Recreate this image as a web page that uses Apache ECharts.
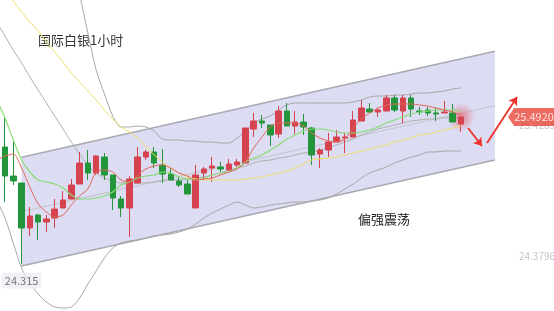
<!DOCTYPE html>
<html><head><meta charset="utf-8">
<script src="https://cdn.jsdelivr.net/npm/echarts@6/dist/echarts.min.js"></script>
<style>html,body{margin:0;padding:0;background:#fff}#c{width:554px;height:311px}</style>
</head><body><div id="c"></div>
<script>
// [open, close, low, high] per hourly bar
const candles = [
 [25.348,25.404,25.332,25.420],[25.252,25.020,24.812,25.484],[25.020,24.980,24.948,25.292],
 [24.964,24.604,24.315,24.964],[24.604,24.700,24.540,24.772],[24.708,24.652,24.508,24.716],
 [24.652,24.676,24.572,24.708],[24.684,24.756,24.604,24.836],[24.764,24.828,24.764,24.900],
 [24.836,24.948,24.836,24.996],[24.956,25.124,24.956,25.212],[25.124,25.044,24.988,25.228],
 [25.044,25.180,25.028,25.188],[25.172,25.028,24.988,25.204],[25.028,24.844,24.748,25.028],
 [24.836,24.764,24.692,24.860],[24.764,24.996,24.532,25.020],[24.964,25.172,24.964,25.252],
 [25.172,25.212,25.148,25.228],[25.212,25.124,25.084,25.252],[25.108,25.036,24.964,25.236],
 [25.036,24.988,24.988,25.084],[24.980,24.948,24.932,25.012],[24.956,24.876,24.876,24.988],
 [24.764,25.028,24.764,25.108],[25.044,25.076,24.988,25.092],[25.084,25.100,24.972,25.172],
 [25.092,25.076,25.052,25.132],[25.068,25.116,25.068,25.156],[25.108,25.132,25.092,25.156],
 [25.124,25.404,25.124,25.404],[25.396,25.460,25.332,25.524],[25.460,25.444,25.404,25.508],
 [25.428,25.348,25.260,25.428],[25.356,25.540,25.324,25.580],[25.540,25.420,25.420,25.604],
 [25.420,25.452,25.356,25.540],[25.452,25.412,25.348,25.516],[25.404,25.188,25.108,25.412],
 [25.196,25.228,25.084,25.244],[25.228,25.292,25.172,25.364],[25.292,25.332,25.292,25.388],
 [25.324,25.332,25.204,25.364],[25.332,25.468,25.332,25.540],[25.460,25.564,25.460,25.628],
 [25.556,25.532,25.524,25.604],[25.532,25.548,25.492,25.564],[25.540,25.644,25.540,25.668],
 [25.644,25.548,25.532,25.668],[25.540,25.644,25.444,25.668],[25.644,25.556,25.492,25.668],
 [25.540,25.532,25.508,25.572],[25.548,25.524,25.500,25.572],[25.524,25.516,25.460,25.564],
 [25.524,25.532,25.524,25.620],[25.524,25.452,25.452,25.596],[25.436,25.492,25.372,25.492]
];
const ma5 = [25.148,25.180,25.196,25.084,24.932,24.796,24.732,24.692,24.708,24.788,24.860,24.916,25.052,25.068,25.052,24.988,24.972,25.028,25.076,25.100,25.108,25.084,25.044,25.020,24.988,24.996,25.004,25.028,25.052,25.076,25.132,25.244,25.332,25.412,25.444,25.444,25.444,25.420,25.364,25.324,25.300,25.292,25.316,25.404,25.476,25.524,25.564,25.588,25.596,25.596,25.596,25.588,25.580,25.564,25.548,25.532,25.508];
const ma10 = [25.628,25.484,25.308,25.148,25.052,24.988,24.972,24.956,24.924,24.868,24.836,24.836,24.844,24.860,24.892,24.948,24.972,25.004,25.020,25.028,25.052,25.044,25.012,24.996,24.988,25.004,25.028,25.044,25.052,25.084,25.132,25.164,25.188,25.228,25.268,25.316,25.348,25.380,25.396,25.396,25.388,25.372,25.364,25.364,25.372,25.388,25.412,25.444,25.468,25.492,25.516,25.532,25.540,25.548,25.548,25.548,25.540];
const ma30 = [26.572,26.492,26.420,26.332,26.252,26.180,26.092,26.012,25.932,25.844,25.772,25.700,25.628,25.548,25.476,25.412,25.372,25.324,25.252,25.188,25.132,25.084,25.044,25.012,24.996,24.988,24.988,24.988,24.988,24.988,24.996,25.004,25.012,25.028,25.044,25.060,25.084,25.116,25.148,25.156,25.164,25.172,25.188,25.204,25.220,25.236,25.252,25.268,25.292,25.308,25.324,25.348,25.356,25.372,25.388,25.404,25.420];
const bollUpper = [28.828,28.588,28.348,28.108,27.868,27.628,27.428,27.228,27.028,26.788,26.476,26.164,25.868,25.676,25.500,25.412,25.412,25.420,25.412,25.380,25.316,25.308,25.308,25.300,25.300,25.292,25.292,25.284,25.284,25.324,25.380,25.444,25.476,25.500,25.548,25.588,25.604,25.604,25.604,25.604,25.604,25.604,25.604,25.612,25.628,25.652,25.660,25.660,25.668,25.668,25.676,25.684,25.684,25.692,25.700,25.716,25.724];
const bollMid = [26.252,26.140,26.028,25.924,25.812,25.708,25.604,25.500,25.396,25.292,25.196,25.108,25.044,25.004,24.980,24.964,24.964,24.964,24.964,24.972,24.980,24.988,24.988,24.996,25.004,25.012,25.028,25.044,25.068,25.084,25.100,25.124,25.140,25.148,25.164,25.172,25.188,25.204,25.212,25.228,25.244,25.268,25.292,25.316,25.348,25.372,25.396,25.412,25.428,25.444,25.460,25.468,25.476,25.476,25.484,25.484,25.484];
const bollLower = [24.828,24.684,24.484,24.284,24.164,24.076,24.012,23.972,23.964,23.972,24.044,24.156,24.260,24.364,24.444,24.484,24.500,24.508,24.524,24.540,24.548,24.556,24.572,24.596,24.636,24.684,24.724,24.756,24.788,24.812,24.788,24.764,24.772,24.788,24.796,24.804,24.812,24.812,24.820,24.828,24.844,24.876,24.916,24.956,25.004,25.044,25.068,25.092,25.124,25.148,25.172,25.188,25.212,25.212,25.220,25.220,25.220];
// rising channel (bar position, price)
const channelX = [3.0, 60.1];
const channelTop = [25.170, 26.018];
const channelBottom = [24.300, 25.148];
const channelMid = [24.735, 25.583];
// forecast arrows [[x1,y1],[x2,y2]]
const arrows = [[[56.86,25.404],[58.54,25.260]], [[59.15,25.284],[62.77,25.652]]];
const lowLabel = {x: 3, value: 24.315, text: '24.315'};
const lastTag = {x: 64.58, value: 25.492, text: '25.4920'};
const priceTags = [{x: 65.18, value: 25.4263, text: '25.4263'}, {x: 65.18, value: 24.3796, text: '24.3796'}];
const titleText = '国际白银1小时';
const noteText = '偏强震荡';

const FONT = '"Noto Sans CJK SC","Noto Sans",sans-serif';
const idx = a => a.map((v, i) => [i, v]);
const lineS = (data, color, width, z) => ({type: 'line', data: idx(data), symbol: 'none', smooth: 0.3,
  lineStyle: {color, width}, z, silent: true, animation: false});

const chart = echarts.init(document.getElementById('c'), null, {renderer: 'canvas'});
chart.setOption({
  animation: false,
  backgroundColor: '#ffffff',
  grid: {left: 0, right: 0, top: 0, bottom: 0},
  xAxis: {type: 'value', min: 0.398, max: 67.23, show: false},
  yAxis: {type: 'value', min: 23.94, max: 26.428, show: false},
  graphic: [
    {type: 'text', left: 38, top: 34, style: {text: titleText, font: '13px ' + FONT, fill: '#333'}},
    {type: 'text', left: 358, top: 213, style: {text: noteText, font: '13px ' + FONT, fill: '#222'}}
  ],
  series: [
    {type: 'custom', data: [0], z: 1, silent: true,
      renderItem: (p, api) => ({type: 'polygon', shape: {points: [
        api.coord([channelX[0], channelTop[0]]), api.coord([channelX[1], channelTop[1]]),
        api.coord([channelX[1], channelBottom[1]]), api.coord([channelX[0], channelBottom[0]])]},
        style: {fill: '#dcdcf2'}})},
    {type: 'line', data: [[channelX[0], channelTop[0]], [channelX[1], channelTop[1]]], symbol: 'none', lineStyle: {color: '#a9a9b3', width: 1.5}, z: 2},
    {type: 'line', data: [[channelX[0], channelBottom[0]], [channelX[1], channelBottom[1]]], symbol: 'none', lineStyle: {color: '#a9a9b3', width: 1.5}, z: 2},
    {type: 'line', data: [[channelX[0], channelMid[0]], [channelX[1], channelMid[1]]], symbol: 'none', lineStyle: {color: '#c4c4cc', width: 1}, z: 2},
    lineS(bollUpper, '#a8a8a8', 1, 2),
    lineS(bollMid, '#b0b0b0', 1, 2),
    lineS(bollLower, '#a8a8a8', 1, 2),
    {type: 'scatter', data: [[candles.length - 1, lastTag.value]], symbolSize: 28, z: 2, silent: true,
      itemStyle: {color: {type: 'radial', x: 0.5, y: 0.5, r: 0.5, colorStops: [
        {offset: 0, color: 'rgba(232,60,70,0.7)'}, {offset: 1, color: 'rgba(232,60,70,0)'}]}}},
    {type: 'candlestick', data: candles.map((c, i) => [i, ...c]), barWidth: 6, z: 3,
      itemStyle: {color: '#d5434f', color0: '#23963b', borderColor: '#d5434f', borderColor0: '#23963b', borderWidth: 1}},
    lineS(ma30, '#f0df6a', 1, 4),
    lineS(ma10, '#88dc74', 1.2, 4),
    lineS(ma5, '#e4665a', 1, 4),
    {type: 'scatter', z: 5, symbolSize: 1, itemStyle: {color: 'rgba(0,0,0,0)'},
      data: priceTags.map(t => ({value: [t.x, t.value], name: t.text})),
      label: {show: true, position: 'inside', formatter: '{b}', color: '#b4b8c2', fontSize: 10, fontFamily: FONT}},
    {type: 'scatter', z: 6, data: [{value: [lastTag.x, lastTag.value], name: lastTag.text}],
      symbol: 'path://M0,9 L6,0 L48,0 L48,18 L6,18 Z', symbolSize: [48, 18], itemStyle: {color: '#e9473b'},
      label: {show: true, position: 'inside', offset: [2, 0], formatter: '{b}', color: '#fff', fontSize: 11, fontFamily: FONT}},
    {type: 'scatter', z: 6, symbolSize: 1, itemStyle: {color: 'rgba(0,0,0,0)'},
      data: [{value: [lowLabel.x, lowLabel.value], name: lowLabel.text}],
      label: {show: true, position: 'bottom', distance: 8, formatter: '{b}', color: '#555', fontSize: 11, fontFamily: FONT,
        backgroundColor: '#eceef2', padding: [3, 3, 2, 3], borderRadius: 2}},
    {type: 'lines', coordinateSystem: 'cartesian2d', z: 6, symbol: ['none', 'arrow'], symbolSize: 8,
      lineStyle: {color: '#f0302a', width: 1.8, opacity: 1},
      data: arrows.map(a => ({coords: a}))}
  ]
});
</script></body></html>
